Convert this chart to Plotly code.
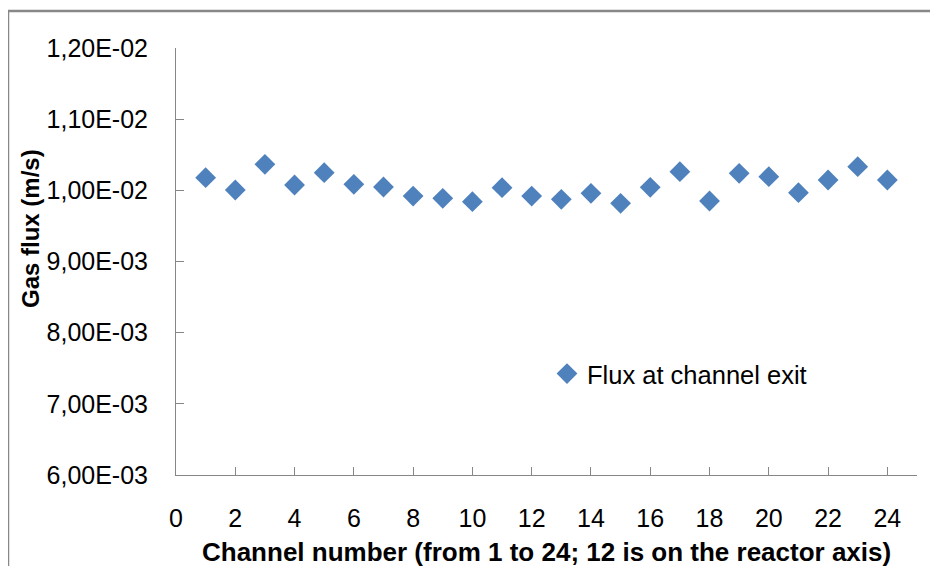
import plotly.graph_objects as go

channels = list(range(1, 25))
flux = [0.010178, 0.010005, 0.010366, 0.010075, 0.010248, 0.010085,
        0.010047, 0.009920, 0.009888, 0.009841, 0.010037, 0.009920,
        0.009874, 0.009958, 0.009818, 0.010042, 0.010262, 0.009850,
        0.010239, 0.010192, 0.009967, 0.010145, 0.010332, 0.010145]

y_tick_vals = [0.006, 0.007, 0.008, 0.009, 0.010, 0.011, 0.012]
y_tick_text = ["6,00E-03", "7,00E-03", "8,00E-03", "9,00E-03",
               "1,00E-02", "1,10E-02", "1,20E-02"]
x_tick_vals = list(range(0, 25, 2))

x_title = "Channel number (from 1 to 24; 12 is on the reactor axis)"
y_title = "Gas flux (m/s)"
series_name = "Flux at channel exit"

# the page body adds an 8px margin, so the figure is laid out in
# screen pixels minus that offset
OFF = 8
W, H = 938 - OFF, 566 - OFF
L = 176 - OFF
T = 48 - OFF
R = W - (917 - OFF)
B = H - (475 - OFF)
pw, ph = W - L - R, H - T - B

def px_x(p):
    return (p - OFF - L) / pw

def px_y(p):
    return (H - B - (p - OFF)) / ph

fig = go.Figure()
fig.add_trace(go.Scatter(
    x=channels, y=flux, mode="markers",
    name=series_name,
    marker=dict(symbol="diamond", size=16, color="#4F81BD"),
))

axis_col = "#868686"
fig.update_layout(
    width=W, height=H,
    margin=dict(l=L, r=R, t=T, b=B, pad=0, autoexpand=False),
    paper_bgcolor="white", plot_bgcolor="white",
    font=dict(family="Liberation Sans, Arial", color="black"),
    showlegend=True,
    legend=dict(x=px_x(547), y=px_y(374), xanchor="left", yanchor="middle",
                font=dict(size=25.5), bgcolor="rgba(0,0,0,0)"),
    xaxis=dict(range=[0, 25], tickvals=x_tick_vals, ticks="inside", ticklen=8,
               tickcolor=axis_col, showline=True, linecolor=axis_col, linewidth=1,
               showgrid=False, zeroline=False, tickfont=dict(size=25),
               ticklabelstandoff=21, automargin=False),
    yaxis=dict(range=[0.006, 0.012], tickvals=y_tick_vals, ticktext=y_tick_text,
               ticks="inside", ticklen=8, tickcolor=axis_col, showline=True,
               linecolor=axis_col, linewidth=1, showgrid=False, zeroline=False,
               tickfont=dict(size=25), ticklabelstandoff=22, automargin=False),
    annotations=[
        dict(text="<b>" + x_title + "</b>", xref="paper", yref="paper",
             x=px_x(546), y=px_y(552), xanchor="center", yanchor="middle",
             showarrow=False, font=dict(size=26)),
        dict(text="<b>" + y_title + "</b>", xref="paper", yref="paper",
             x=px_x(30), y=px_y(229), xanchor="center", yanchor="middle",
             textangle=-90, showarrow=False, font=dict(size=24)),
    ],
    shapes=[
        dict(type="line", xref="paper", yref="paper", x0=px_x(8), x1=px_x(945),
             y0=px_y(11), y1=px_y(11), line=dict(color="#888888", width=2.5)),
        dict(type="line", xref="paper", yref="paper", x0=px_x(8), x1=px_x(8),
             y0=px_y(11), y1=px_y(580), line=dict(color="#888888", width=2.5)),
    ],
)

fig.write_html("out.html")
